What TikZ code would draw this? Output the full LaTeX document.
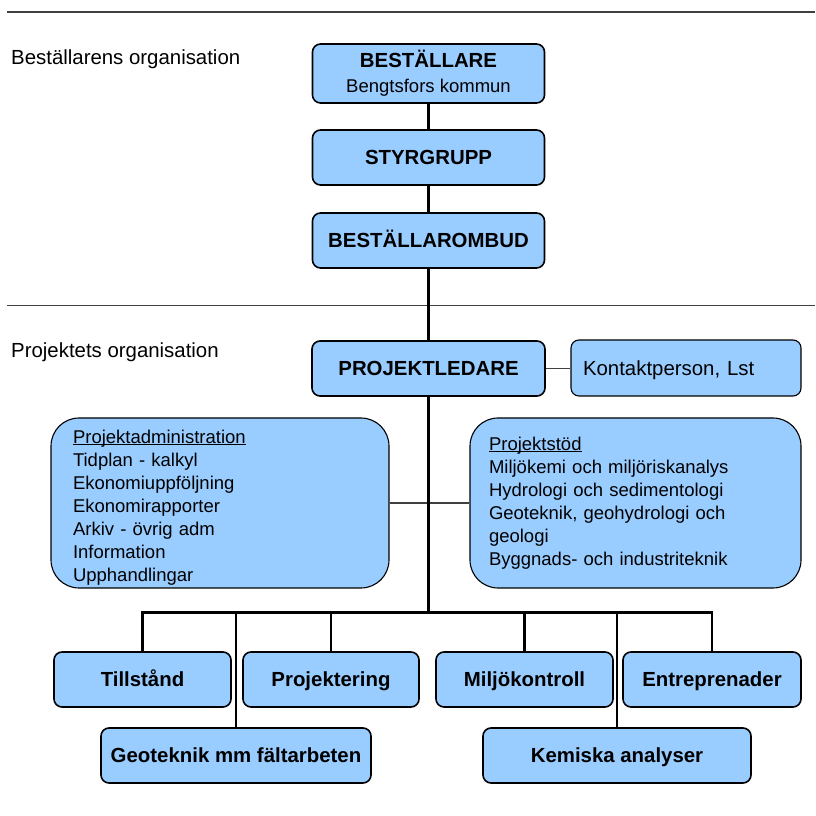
\documentclass[tikz,border=0pt]{standalone}
\usepackage{fontspec}
\setmainfont{Liberation Sans}
\usetikzlibrary{positioning}
\definecolor{boxblue}{HTML}{99CCFF}
\newcommand{\storfont}{\fontsize{20.4}{25}\selectfont}
\newcommand{\litenfont}{\fontsize{18.5}{23}\selectfont}

\begin{document}
\begin{tikzpicture}[x=1pt, y=1pt,
    ruta/.style={draw, line width=1.6pt, fill=boxblue, rounded corners=8pt,
        minimum height=55pt, inner sep=0pt, font=\storfont\bfseries},
    enrad/.style={ruta, text height=14.6pt, text depth=0pt},
    storruta/.style={draw, line width=1.1pt, fill=boxblue, rounded corners=28pt,
        minimum height=170pt, inner ysep=0pt, align=left, font=\litenfont},
    rubrik/.style={anchor=base west, inner sep=0pt, font=\storfont},
    linje/.style={line width=2.8pt, line cap=rect},
    tunn/.style={line width=1.1pt, black!75}]

    \useasboundingbox (0,0) rectangle (815,816);

    % avdelare
    \draw[tunn](7, 804)--(815, 804);
    \draw[tunn](7, 510.5)--(815, 510.5);
    \node[rubrik] (bestorg) at (11, 751) {Beställarens organisation};
    \node[rubrik] (projorg) at (11, 458) {Projektets organisation};

    % beställaren
    \node[ruta, minimum width=232pt, minimum height=59pt, align=center] (best) at (428.5, 742.5)
        {BESTÄLLARE\\{\litenfont\mdseries Bengtsfors kommun}};
    \node[enrad, minimum width=232pt] (styr) at (428.5, 658.5) {STYRGRUPP};
    \node[enrad, minimum width=232pt] (ombud) at (428.5, 575.5) {BESTÄLLAROMBUD};

    % projektet
    \node[enrad, minimum width=233pt] (pl) at (428.5, 447.5) {PROJEKTLEDARE};
    \node[enrad, line width=1.1pt, font=\storfont\mdseries, minimum width=230pt, minimum height=56pt,
        text width=206pt, align=left] (kontakt) at (686, 448) {Kontaktperson, Lst};

    \node[storruta, minimum width=338pt, text width=294pt, inner xsep=22pt] (padm) at (220, 313)
        {\rule{0pt}{22pt}\underline{\smash{Projektadministration}}\\Tidplan - kalkyl\\Ekonomiuppföljning\\
         Ekonomirapporter\\Arkiv - övrig adm\\Information\\Upphandlingar};
    \node[storruta, minimum width=331pt, text width=293pt, inner xsep=19pt] (pstod) at (635.5, 313)
        {\rule{0pt}{13pt}\underline{\smash{Projektstöd}}\\Miljökemi och miljöriskanalys\\Hydrologi och sedimentologi\\
         Geoteknik, geohydrologi och\\geologi\\Byggnads- och industriteknik};

    \node[enrad, minimum width=177pt] (till) at (142.5, 136.5) {Tillstånd};
    \node[enrad, minimum width=176pt] (proj) at (331, 136.5) {Projektering};
    \node[enrad, minimum width=177pt] (milj) at (524.5, 136.5) {Miljökontroll};
    \node[enrad, minimum width=178pt] (entr) at (712, 136.5) {Entreprenader};
    \node[enrad, minimum width=270pt] (geo) at (236, 60.5) {Geoteknik mm fältarbeten};
    \node[enrad, minimum width=268pt] (kem) at (617, 60.5) {Kemiska analyser};

    % förbindelser
    \draw[tunn](pl.east)--(pl.east -| kontakt.west);
    \draw[tunn](padm)--(pstod);

    \coordinate (buss) at (428.5, 203.5);
    \draw[linje](best)--(styr);
    \draw[linje](styr)--(ombud);
    \draw[linje](ombud)--(pl);
    \draw[linje](pl)--(buss);
    \draw[linje](till.north |- buss)--(entr.north |- buss);
    \foreach \n in {till, proj, milj, entr, geo, kem}
        \draw[linje](\n.north)--(\n.north |- buss);

\end{tikzpicture}
\end{document}
